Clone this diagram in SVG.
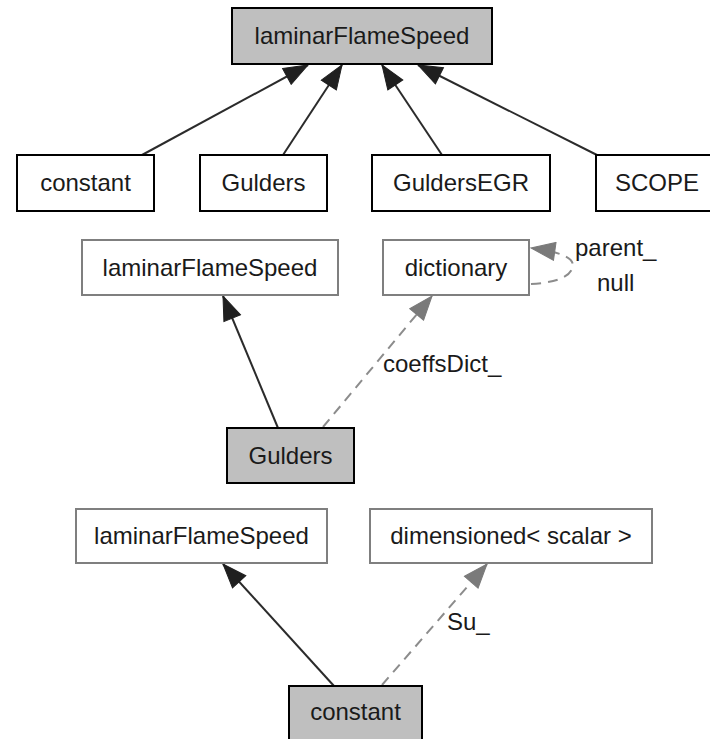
<svg xmlns="http://www.w3.org/2000/svg" width="710" height="739" viewBox="0 0 710 739">
<style>
text{font-family:"Liberation Sans",Arial,sans-serif;font-size:24px;fill:#1a1a1a}
.c{text-anchor:middle}
.hl{fill:#bfbfbf;stroke:#000;stroke-width:2}
.bk{fill:#fff;stroke:#000;stroke-width:2}
.gy{fill:#fff;stroke:#7f7f7f;stroke-width:2}
.inh{fill:none;stroke:#2b2b2b;stroke-width:2}
.use{fill:none;stroke:#8c8c8c;stroke-width:2;stroke-dasharray:10,7}
</style>
<defs>
<marker id="ab" markerUnits="userSpaceOnUse" markerWidth="26" markerHeight="20" refX="25" refY="10" orient="auto" viewBox="0 0 26 20">
<path d="M1,1 L25,10 L1,19 z" fill="#1f1f1f" stroke="#1f1f1f" stroke-width="1"/>
</marker>
<marker id="ag" markerUnits="userSpaceOnUse" markerWidth="26" markerHeight="20" refX="25" refY="10" orient="auto" viewBox="0 0 26 20">
<path d="M1,1 L25,10 L1,19 z" fill="#7a7a7a" stroke="#7a7a7a" stroke-width="1"/>
</marker>
</defs>
<g id="edges">
<line class="inh" x1="142" y1="155" x2="308" y2="65" marker-end="url(#ab)"/>
<line class="inh" x1="283" y1="155" x2="342" y2="65" marker-end="url(#ab)"/>
<line class="inh" x1="442" y1="155" x2="382" y2="65" marker-end="url(#ab)"/>
<line class="inh" x1="597" y1="155" x2="418" y2="65" marker-end="url(#ab)"/>
<line class="inh" x1="278" y1="428" x2="223" y2="296" marker-end="url(#ab)"/>
<line class="inh" x1="334" y1="686" x2="223" y2="564" marker-end="url(#ab)"/>
<line class="use" x1="323" y1="427" x2="432" y2="296" marker-end="url(#ag)"/>
<line class="use" x1="382" y1="685" x2="487" y2="564" marker-end="url(#ag)"/>
<path class="use" d="M531,284 C550,283 568,279 572,269 C576,259 566,253 531,248" marker-end="url(#ag)"/>
<text x="575" y="256">parent_</text>
<text x="597" y="291">null</text>
<text x="383" y="372">coeffsDict_</text>
<text x="447" y="630">Su_</text>
</g>
<g id="n_top"><rect class="hl" x="232" y="8" width="260" height="56"/><text class="c" x="362" y="44">laminarFlameSpeed</text></g>
<g id="n_constant"><rect class="bk" x="17" y="155" width="137" height="56"/><text class="c" x="85.5" y="191">constant</text></g>
<g id="n_gulders"><rect class="bk" x="200" y="155" width="127" height="56"/><text class="c" x="263.5" y="191">Gulders</text></g>
<g id="n_guldersegr"><rect class="bk" x="372" y="155" width="178" height="56"/><text class="c" x="461" y="191">GuldersEGR</text></g>
<g id="n_scope"><rect class="bk" x="596" y="155" width="122" height="56"/><text class="c" x="657" y="191">SCOPE</text></g>
<g id="n_lfs2"><rect class="gy" x="82" y="240" width="256" height="55"/><text class="c" x="210" y="276">laminarFlameSpeed</text></g>
<g id="n_dict"><rect class="gy" x="383" y="240" width="146" height="55"/><text class="c" x="456" y="276">dictionary</text></g>
<g id="n_gulders2"><rect class="hl" x="227" y="428" width="127" height="55"/><text class="c" x="290.5" y="464">Gulders</text></g>
<g id="n_lfs3"><rect class="gy" x="76" y="509" width="251" height="54"/><text class="c" x="201.5" y="544">laminarFlameSpeed</text></g>
<g id="n_dim"><rect class="gy" x="370" y="509" width="282" height="54"/><text class="c" x="511" y="544">dimensioned&lt; scalar &gt;</text></g>
<g id="n_constant2"><rect class="hl" x="289" y="686" width="133" height="56"/><text class="c" x="355.5" y="720">constant</text></g>
</svg>
